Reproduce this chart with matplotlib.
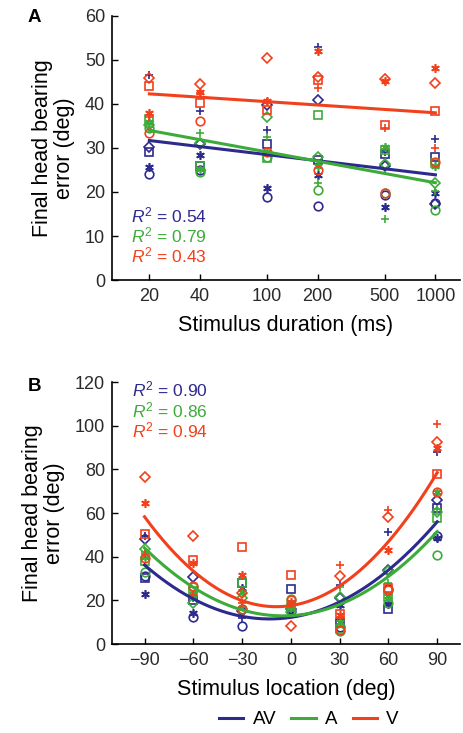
import numpy as np
import matplotlib
matplotlib.use("Agg")
from matplotlib import pyplot as plt
from matplotlib.lines import Line2D

plt.rcParams['font.family'] = ['Liberation Sans', 'DejaVu Sans']
plt.rcParams['mathtext.fontset'] = 'custom'
plt.rcParams['mathtext.rm'] = 'Liberation Sans'
plt.rcParams['mathtext.it'] = 'Liberation Sans:italic'
plt.rcParams['axes.unicode_minus'] = True

# colours for the three conditions
BLUE = '#2d2a8e'
GREEN = '#3dab3a'
RED = '#f2401c'

conditions = ['AV', 'A', 'V']
colors = [BLUE, GREEN, RED]
# one marker per subject: circle, plus, asterisk, square, diamond
markers = ['o', '+', (6, 2, 0), 's', 'D']

# ---- panel A: error vs stimulus duration ----
durations = [20, 40, 100, 200, 500, 1000]
dur_av = [[24.0, 25.0, 18.9, 16.8, 19.4, 17.6],
          [46.6, 38.3, 34.2, 53.0, 29.2, 32.0],
          [25.6, 28.4, 20.8, 23.9, 16.5, 19.8],
          [29.2, 25.8, 30.8, 27.3, 28.6, 27.9],
          [30.2, 31.0, 39.8, 40.9, 25.8, 17.2]]
dur_a = [[34.5, 24.6, 28.0, 20.5, 19.8, 15.9],
         [34.8, 33.5, 32.6, 22.1, 13.8, 20.3],
         [36.0, 25.3, 29.0, 26.0, 30.2, 25.9],
         [36.7, 25.9, 27.7, 37.5, 29.5, 26.5],
         [35.2, 31.1, 37.0, 28.0, 26.4, 22.1]]
dur_v = [[33.3, 36.2, 29.2, 25.0, 19.7, 26.9],
         [37.0, 42.4, 40.5, 43.6, 34.5, 29.9],
         [37.9, 42.8, 40.7, 52.1, 45.3, 48.1],
         [44.1, 40.3, 38.6, 45.5, 35.2, 38.3],
         [45.8, 44.5, 50.4, 46.2, 45.7, 44.7]]
# regression line values at 20 ms and 1000 ms
fit_dur = {'AV': [31.7, 23.9], 'A': [34.0, 22.1], 'V': [42.3, 38.0]}
r2_dur = ['0.54', '0.79', '0.43']

# ---- panel B: error vs stimulus location ----
locations = [-90, -60, -30, 0, 30, 60, 90]
loc_av = [[31.0, 12.2, 8.2, 15.0, 8.0, 25.0, 49.6],
          [49.5, 21.0, 11.8, 17.0, 27.0, 51.1, 88.1],
          [22.7, 14.4, 25.5, 14.8, 18.0, 18.3, 48.4],
          [30.1, 20.0, 27.8, 25.3, 9.5, 16.2, 62.1],
          [48.0, 30.5, 15.0, 16.0, 21.2, 33.9, 66.0]]
loc_a = [[33.1, 26.0, 16.0, 20.5, 6.0, 18.6, 40.8],
         [42.0, 21.0, 17.0, 16.0, 26.3, 27.8, 62.0],
         [40.0, 23.0, 24.0, 18.0, 10.0, 22.0, 69.8],
         [38.0, 24.4, 28.0, 17.0, 7.0, 21.7, 57.6],
         [43.4, 18.6, 21.0, 14.5, 21.5, 33.5, 60.6]]
loc_v = [[39.3, 26.5, 16.2, 20.2, 6.4, 24.7, 69.8],
         [41.2, 22.4, 19.0, 18.5, 36.2, 61.4, 100.8],
         [64.7, 37.0, 31.6, 19.4, 13.3, 43.1, 89.6],
         [50.4, 38.5, 44.3, 31.5, 13.7, 25.5, 77.7],
         [76.3, 49.5, 23.2, 8.4, 31.1, 58.0, 92.7]]
# quadratic fit values at -90, 0 and 90 deg
fit_loc_x = [-90, 0, 90]
fit_loc = {'AV': [36.2, 12.2, 56.0], 'A': [44.0, 13.0, 51.5], 'V': [58.3, 17.6, 78.5]}
r2_loc = ['0.90', '0.86', '0.94']

fig = plt.figure(figsize=(4.63, 7.33), dpi=100)
axA = fig.add_axes([0.2419, 0.618, 0.7516, 0.3602])
axB = fig.add_axes([0.2419, 0.1214, 0.7516, 0.3574])

def style_axis(ax):
    for side in ['top', 'right']:
        ax.spines[side].set_visible(False)
    for side in ['left', 'bottom']:
        ax.spines[side].set_linewidth(1.2)
    ax.tick_params(direction='in', length=4, width=1.0, labelsize=13,
                   labelcolor='#2a2a2a')
    ax.tick_params(axis='x', pad=6)
    ax.tick_params(axis='y', pad=5)
    ax.tick_params(which='minor', length=0)

def scatter_all(ax, xs, data, color):
    for m, row in zip(markers, data):
        size = 4.7 if m == 'D' else 6.2
        ax.plot(xs, row, linestyle='none', marker=m, markersize=size,
                markerfacecolor='none', markeredgecolor=color,
                markeredgewidth=1.2, clip_on=False)

# panel A
for name, data, c in zip(conditions, [dur_av, dur_a, dur_v], colors):
    scatter_all(axA, durations, data, c)
for name, c in zip(conditions, colors):
    axA.plot([durations[0], durations[-1]], fit_dur[name], color=c, lw=2.2)

axA.set_xscale('log')
axA.set_xlim(12, 1400)
axA.set_ylim(0, 60)
axA.set_xticks(durations)
axA.set_xticklabels([str(d) for d in durations])
axA.set_yticks(range(0, 61, 10))
style_axis(axA)
axA.set_xlabel('Stimulus duration (ms)', fontsize=15.5, labelpad=7)
axA.set_ylabel('Final head bearing\nerror (deg)', fontsize=15.5, labelpad=7,
               linespacing=1.05)
for i, (r, c) in enumerate(zip(r2_dur, colors)):
    axA.text(0.055, 0.245 - i * 0.076, r'$R^{\mathregular{2}}$ = ' + r,
             transform=axA.transAxes, color=c, fontsize=12.5, va='center')

# panel B
for name, data, c in zip(conditions, [loc_av, loc_a, loc_v], colors):
    scatter_all(axB, locations, data, c)
xs = np.linspace(-90, 90, 200)
for name, c in zip(conditions, colors):
    coef = np.polyfit(fit_loc_x, fit_loc[name], 2)
    axB.plot(xs, np.polyval(coef, xs), color=c, lw=2.2)

axB.set_xlim(-110, 104)
axB.set_ylim(0, 120)
axB.set_xticks(locations)
axB.set_yticks(range(0, 121, 20))
style_axis(axB)
axB.set_xlabel('Stimulus location (deg)', fontsize=15.5, labelpad=7)
axB.set_ylabel('Final head bearing\nerror (deg)', fontsize=15.5, labelpad=7,
               linespacing=1.05)
for i, (r, c) in enumerate(zip(r2_loc, colors)):
    axB.text(0.058, 0.97 - i * 0.077, r'$R^{\mathregular{2}}$ = ' + r,
             transform=axB.transAxes, color=c, fontsize=12.5, va='center')

fig.text(28 / 463, 1 - 18 / 733, 'A', fontsize=13.5, fontweight='bold', va='center')
fig.text(28 / 463, 1 - 386 / 733, 'B', fontsize=13.5, fontweight='bold', va='center')

handles = [Line2D([0], [0], color=c, lw=2.2) for c in colors]
fig.legend(handles, conditions, loc='lower center', bbox_to_anchor=(0.667, 0.0),
           ncol=3, frameon=False, fontsize=13.5, handlelength=1.3,
           handletextpad=0.5, columnspacing=0.8, borderaxespad=0.1,
           borderpad=0.15)

fig.savefig('out.png', dpi=100)
